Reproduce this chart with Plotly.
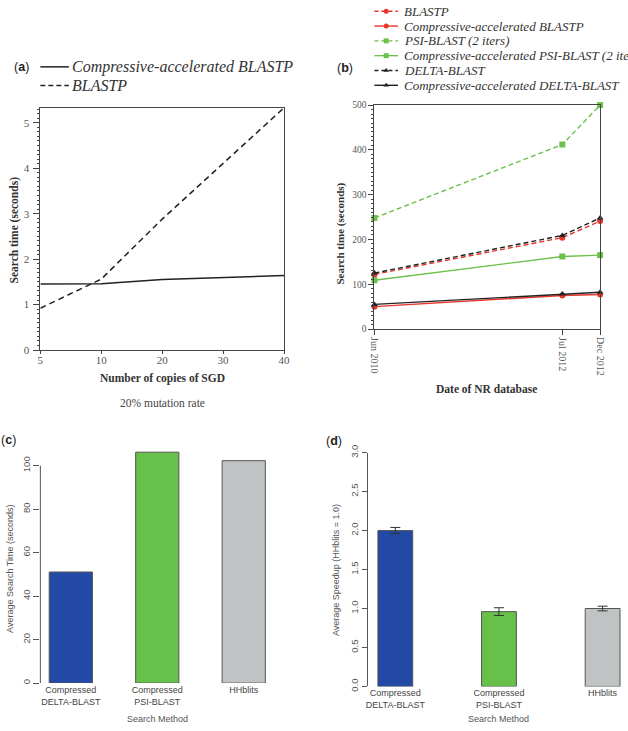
import plotly.graph_objects as go

W, H = 628, 731

# ---------------- data ----------------
# (a)
sgd_copies = ['5', '10', '20', '30', '40']
blastp_a = [0.92, 1.56, 2.88, 4.11, 5.33]
compressive_blastp_a = [1.45, 1.46, 1.55, 1.60, 1.64]

# (b)
nr_dates = ['2010-06-01', '2012-07-01', '2012-12-01']
nr_labels = ['Jun 2010', 'Jul 2012', 'Dec 2012']
blastp_b = [122, 204, 241]
comp_blastp_b = [50, 75, 77]
psi_b = [248, 412, 500]
comp_psi_b = [109, 162, 165]
delta_b = [125, 209, 248]
comp_delta_b = [55, 78, 82]

# (c)
methods = ['Compressed<br>DELTA-BLAST', 'Compressed<br>PSI-BLAST', 'HHblits']
avg_time = [51.1, 106.2, 102.3]

# (d)
avg_speedup = [2.00, 0.96, 1.00]
speedup_err = [0.04, 0.05, 0.03]

bar_colors = ['#2249a5', '#66c04a', '#bfc3c3']

RED = '#e5372b'
GREEN = '#6cc04c'
BLACK = '#222222'

SERIF = 'Liberation Serif, Times New Roman, serif'
SANS = 'Liberation Sans, Arial, sans-serif'


def px(x):
    return x / W


def py(y):
    return 1 - y / H


fig = go.Figure()

# ---------------- (a) ----------------
fig.add_trace(go.Scatter(x=sgd_copies, y=compressive_blastp_a, mode='lines',
                         line=dict(color=BLACK, width=1.5), xaxis='x', yaxis='y',
                         showlegend=False))
fig.add_trace(go.Scatter(x=sgd_copies, y=blastp_a, mode='lines',
                         line=dict(color=BLACK, width=1.5, dash='6px,4px'), xaxis='x', yaxis='y',
                         showlegend=False))

# ---------------- (b) ----------------
b_series = [
    ('BLASTP', blastp_b, RED, 'dash', 'circle'),
    ('Compressive-accelerated BLASTP', comp_blastp_b, RED, 'solid', 'circle'),
    ('PSI-BLAST (2 iters)', psi_b, GREEN, 'dash', 'square'),
    ('Compressive-accelerated PSI-BLAST (2 iters)', comp_psi_b, GREEN, 'solid', 'square'),
    ('DELTA-BLAST', delta_b, BLACK, 'dash', 'triangle-up'),
    ('Compressive-accelerated DELTA-BLAST', comp_delta_b, BLACK, 'solid', 'triangle-up'),
]
for name, vals, col, dash, sym in b_series:
    fig.add_trace(go.Scatter(x=nr_dates, y=vals, mode='lines+markers', name=name,
                             line=dict(color=col, width=1.4, dash='5px,3px' if dash == 'dash' else 'solid'),
                             marker=dict(color=col, size=6, symbol=sym),
                             xaxis='x2', yaxis='y2', cliponaxis=False, showlegend=False))

# ---------------- (c) ----------------
fig.add_trace(go.Bar(x=methods, y=avg_time, width=0.5,
                     marker=dict(color=bar_colors, line=dict(color='#555555', width=1)),
                     xaxis='x3', yaxis='y3', showlegend=False))

# ---------------- (d) ----------------
fig.add_trace(go.Bar(x=methods, y=avg_speedup, width=0.336,
                     marker=dict(color=bar_colors, line=dict(color='#555555', width=1)),
                     error_y=dict(type='data', array=speedup_err, color='#333333',
                                  thickness=1, width=5),
                     xaxis='x4', yaxis='y4', showlegend=False))

# ---------------- manual legends (overlay pixel axis) ----------------
a_legend = [('Compressive-accelerated BLASTP', 'solid', 60),
            ('BLASTP', '5px,3px', 79)]
b_legend_rows = [3.3, 18.4, 33.5, 48.6, 63.7, 78.8]

annotations = []
for text, dash, yy in a_legend:
    fig.add_trace(go.Scatter(x=[36, 65], y=[yy, yy], mode='lines',
                             line=dict(color=BLACK, width=1.5, dash=dash),
                             xaxis='x5', yaxis='y5', showlegend=False, hoverinfo='skip',
                             cliponaxis=False))
    annotations.append(dict(x=px(66), y=py(yy), xref='paper', yref='paper',
                            text='<i>%s</i>' % text, showarrow=False, xanchor='left',
                            yanchor='middle', font=dict(family=SERIF, size=16, color='#333')))

for (name, vals, col, dash, sym), yy in zip(b_series, b_legend_rows):
    fig.add_trace(go.Scatter(x=[376, 400], y=[yy, yy], mode='lines',
                             line=dict(color=col, width=1.4, dash='4px,3px' if dash == 'dash' else 'solid'),
                             xaxis='x5', yaxis='y5', showlegend=False, hoverinfo='skip',
                             cliponaxis=False))
    fig.add_trace(go.Scatter(x=[388], y=[yy], mode='markers',
                             marker=dict(color=col, size=5, symbol=sym),
                             xaxis='x5', yaxis='y5', showlegend=False, hoverinfo='skip',
                             cliponaxis=False))
    annotations.append(dict(x=px(404), y=py(yy), xref='paper', yref='paper',
                            text='<i>%s</i>' % name, showarrow=False, xanchor='left',
                            yanchor='middle', font=dict(family=SERIF, size=13, color='#333')))

# ---------------- text annotations ----------------
def ann(x, y, text, size, family=SANS, color='#333', angle=0, xanchor='center'):
    annotations.append(dict(x=px(x), y=py(y), xref='paper', yref='paper', text=text,
                            showarrow=False, xanchor=xanchor, yanchor='middle',
                            textangle=angle, font=dict(family=family, size=size, color=color)))

# panel labels
ann(17, 60, '(<b>a</b>)', 12.5, color='#222')
ann(346, 61, '(<b>b</b>)', 12.5, color='#222')
ann(13, 440, '(<b>c</b>)', 12.5, color='#222', xanchor='right')
ann(335, 441, '(<b>d</b>)', 12.5, color='#222')

# (a) titles
ann(10, 226, '<b>Search time (seconds)</b>', 11.5, family=SERIF, angle=-90)
ann(160, 378, '<b>Number of copies of SGD</b>', 11.5, family=SERIF)
ann(160, 403, '20% mutation rate', 11.5, family=SERIF, color='#444')
# (b) titles
ann(342, 230, '<b>Search time (seconds)</b>', 11, family=SERIF, angle=-90)
ann(490, 388, '<b>Date of NR database</b>', 11.5, family=SERIF)
# (c) titles
ann(5, 572, 'Average Search Time (seconds)', 9, color='#555', angle=-90)
ann(155, 725, 'Search Method', 9, color='#555')
# (d) titles
ann(337, 573, 'Average Speedup (HHblits = 1.0)', 9, color='#555', angle=-90)
ann(502, 725, 'Search Method', 9, color='#555')

shapes = [
    # (c) y axis line from 0 to 100
    dict(type='line', xref='paper', yref='y3', x0=px(36), x1=px(36), y0=0, y1=100,
         line=dict(color='#555555', width=1)),
]

serif_ax = dict(showline=True, linecolor='#444', linewidth=1, mirror=True, ticks='outside',
                ticklen=5, tickcolor='#444', showgrid=False, zeroline=False,
                tickfont=dict(family=SERIF, size=11, color='#555'))
sans_y = dict(showgrid=False, zeroline=False, ticks='outside', ticklen=6, tickcolor='#555',
              tickangle=-90, tickfont=dict(family=SANS, size=9.5, color='#555'))
sans_x = dict(showgrid=False, zeroline=False, showline=False, ticks='', type='category',
              tickfont=dict(family=SANS, size=9, color='#444'))

fig.update_layout(
    width=W, height=H, autosize=False,
    margin=dict(l=0, r=0, t=0, b=0),
    paper_bgcolor='white', plot_bgcolor='rgba(0,0,0,0)',
    showlegend=False,
    xaxis=dict(serif_ax, domain=[px(36), px(284)], anchor='y', type='category', range=[0, 4],
               ticklen=3, ticklabelstandoff=-3),
    yaxis=dict(serif_ax, domain=[py(348.7), py(101.7)], anchor='x', range=[0, 5.33], dtick=1,
               ticklen=6, ticklabelstandoff=2,
               minor=dict(dtick=0.1, ticklen=2.5, ticks='outside', tickcolor='#444')),
    xaxis2=dict(serif_ax, domain=[px(376), px(605.7)], anchor='y2', type='date',
                range=[nr_dates[0], nr_dates[-1]], tickvals=nr_dates, ticktext=nr_labels,
                tickangle=90, tickfont=dict(family=SERIF, size=10, color='#555')),
    yaxis2=dict(serif_ax, domain=[py(327.3), py(99)], anchor='x2', range=[0, 500], dtick=100,
                tickfont=dict(family=SERIF, size=9.5, color='#555'),
                minor=dict(dtick=10, ticklen=2.5, ticks='outside', tickcolor='#444')),
    xaxis3=dict(sans_x, domain=[px(36), px(290)], anchor='y3', range=[-0.352, 2.534]),
    yaxis3=dict(sans_y, domain=[py(688.3), py(440)], anchor='x3', range=[0, 112.0],
                tickvals=[0, 20, 40, 60, 80, 100], showline=False),
    xaxis4=dict(sans_x, domain=[px(369), 1.0], anchor='y4', range=[-0.268, 2.187]),
    yaxis4=dict(sans_y, domain=[py(691.7), py(453.3)], anchor='x4', range=[0, 3.0],
                tickvals=[0, 0.5, 1, 1.5, 2, 2.5, 3], tickformat='.1f',
                showline=True, linecolor='#555', linewidth=1, ticklen=5),
    xaxis5=dict(domain=[0, 1], range=[0, W], visible=False, anchor='y5', fixedrange=True),
    yaxis5=dict(domain=[0, 1], range=[H, 0], visible=False, anchor='x5', fixedrange=True),
    annotations=annotations,
    shapes=shapes,
)

fig.write_html('out.html')
